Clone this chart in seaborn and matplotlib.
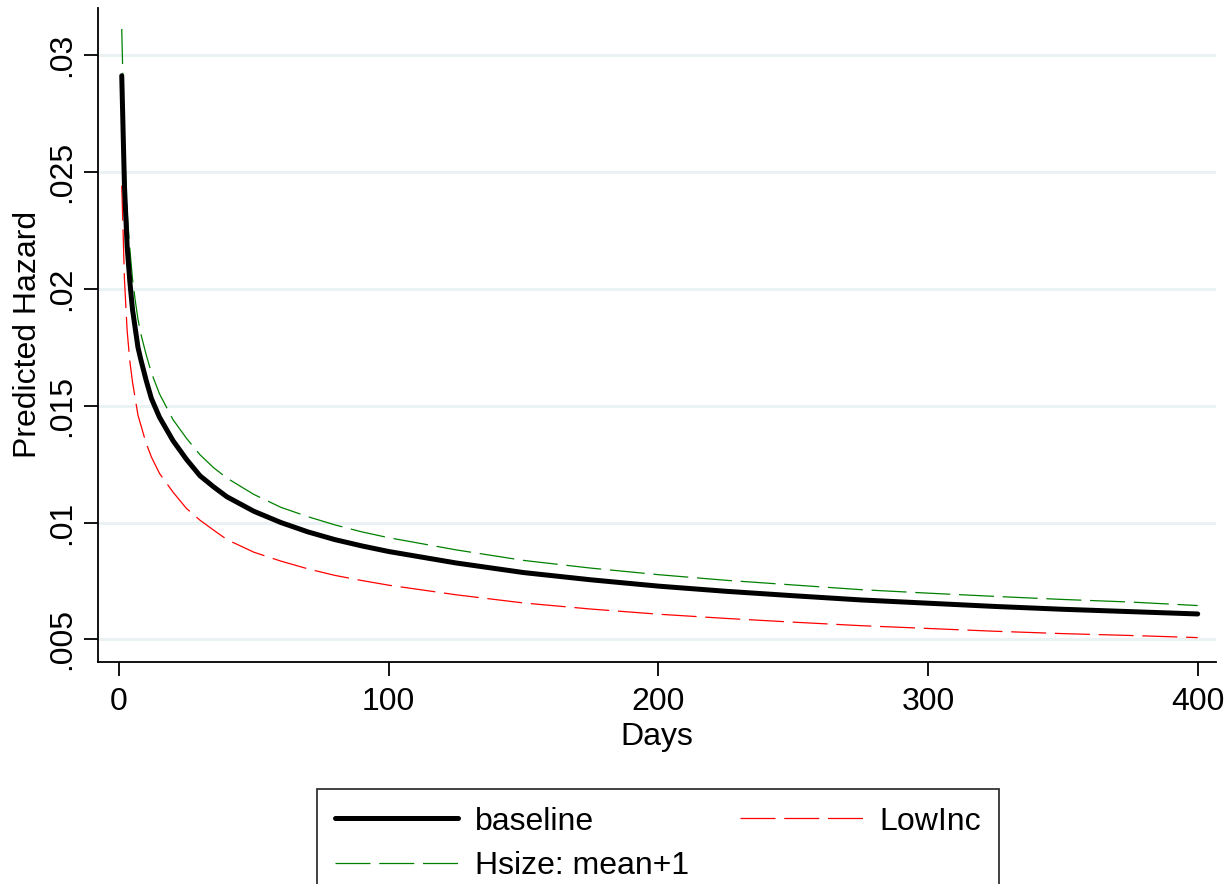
import pandas as pd
import matplotlib
matplotlib.use('Agg')
import matplotlib.pyplot as plt
import seaborn as sns

# values
days = [1, 2, 3, 4, 5, 6, 7, 8, 10, 12, 15, 20, 25, 30, 35, 40, 50, 60,
        70, 80, 90, 100, 125, 150, 175, 200, 225, 250, 275, 300, 325, 350,
        375, 400]
baseline = [.0291, .0244, .0218, .0203, .0191, .0183, .0175, .0170, .0161,
            .0153, .0145, .0135, .0127, .0120, .01153, .0111, .01048, .0100,
            .00960, .00927, .00900, .00876, .00827, .00786, .00755, .00728,
            .00706, .00687, .00669, .00655, .00641, .00629, .00619, .00609]
hsize = [.0311, .0261, .0233, .0217, .0204, .0195, .0187, .0181, .0172,
         .0164, .0155, .0144, .0136, .0129, .01235, .0119, .0112, .01065,
         .01025, .0099, .0096, .00935, .00883, .00838, .00805, .00777,
         .00753, .00733, .00713, .00698, .00684, .00671, .00660, .00645]
lowinc = [.0244, .0204, .0182, .0169, .0160, .0153, .0146, .0142, .0134,
          .0128, .0121, .0113, .0106, .0101, .00968, .00927, .00873, .00835,
          .00802, .00774, .00752, .00732, .00691, .00656, .00630, .00608,
          .00590, .00574, .00559, .00547, .00535, .00525, .00517, .00508]
yticks = [.005, .01, .015, .02, .025, .03]
ytick_labels = ['.005', '.01', '.015', '.02', '.025', '.03']
xticks = [0, 100, 200, 300, 400]

df = pd.DataFrame({'days': days, 'baseline': baseline,
                   'hsize': hsize, 'lowinc': lowinc})

sns.set_style('white')
plt.rcParams['font.family'] = ['Liberation Sans', 'DejaVu Sans']
plt.rcParams.update({'text.color': 'black', 'axes.labelcolor': 'black',
                     'xtick.color': 'black', 'ytick.color': 'black'})

fs = 23

fig = plt.figure(figsize=(12.24, 8.84), dpi=100)
ax = fig.add_axes([0.0803, 0.2515, 0.9132, 0.7395])

for y in yticks:
    ax.axhline(y, color='#eaf2f3', lw=2.2, zorder=0)

sns.lineplot(data=df, x='days', y='baseline', ax=ax, color='black', lw=3.6,
             label='baseline', zorder=4, solid_capstyle='round',
             solid_joinstyle='round')
sns.lineplot(data=df, x='days', y='hsize', ax=ax, color='#008000', lw=0.9,
             dashes=(28, 7), label='Hsize: mean+1', zorder=3)
sns.lineplot(data=df, x='days', y='lowinc', ax=ax, color='#ff0000', lw=0.9,
             dashes=(28, 7), label='LowInc', zorder=3)

ax.set_xlim(-7.7, 406.8)
ax.set_ylim(0.00405, 0.0320)
ax.set_xticks(xticks)
ax.set_xticklabels([str(x) for x in xticks])
ax.set_yticks(yticks)
ax.set_yticklabels(ytick_labels, rotation=90, va='center')

for s in ['top', 'right']:
    ax.spines[s].set_visible(False)
for s in ['left', 'bottom']:
    ax.spines[s].set_color('black')
    ax.spines[s].set_linewidth(1.3)

ax.tick_params(axis='both', direction='out', length=10, width=1.3,
               color='black', labelsize=fs, labelcolor='black',
               left=True, bottom=True)
ax.tick_params(axis='x', pad=8)
ax.tick_params(axis='y', pad=5)
ax.set_xlabel('Days', fontsize=fs, labelpad=4)
ax.set_ylabel('Predicted Hazard', fontsize=fs, labelpad=3)

handles, labels = ax.get_legend_handles_labels()
ax.get_legend().remove()
leg = fig.legend(handles, labels, ncol=2, loc='upper center',
                 bbox_to_anchor=(0.5376, 0.1256), fontsize=fs, frameon=True,
                 fancybox=False, edgecolor='black', handlelength=3.85,
                 handletextpad=0.53, columnspacing=1.6, labelspacing=0.45,
                 borderpad=0.55)
leg.get_frame().set_linewidth(1.3)

fig.savefig('out.png', dpi=100)
